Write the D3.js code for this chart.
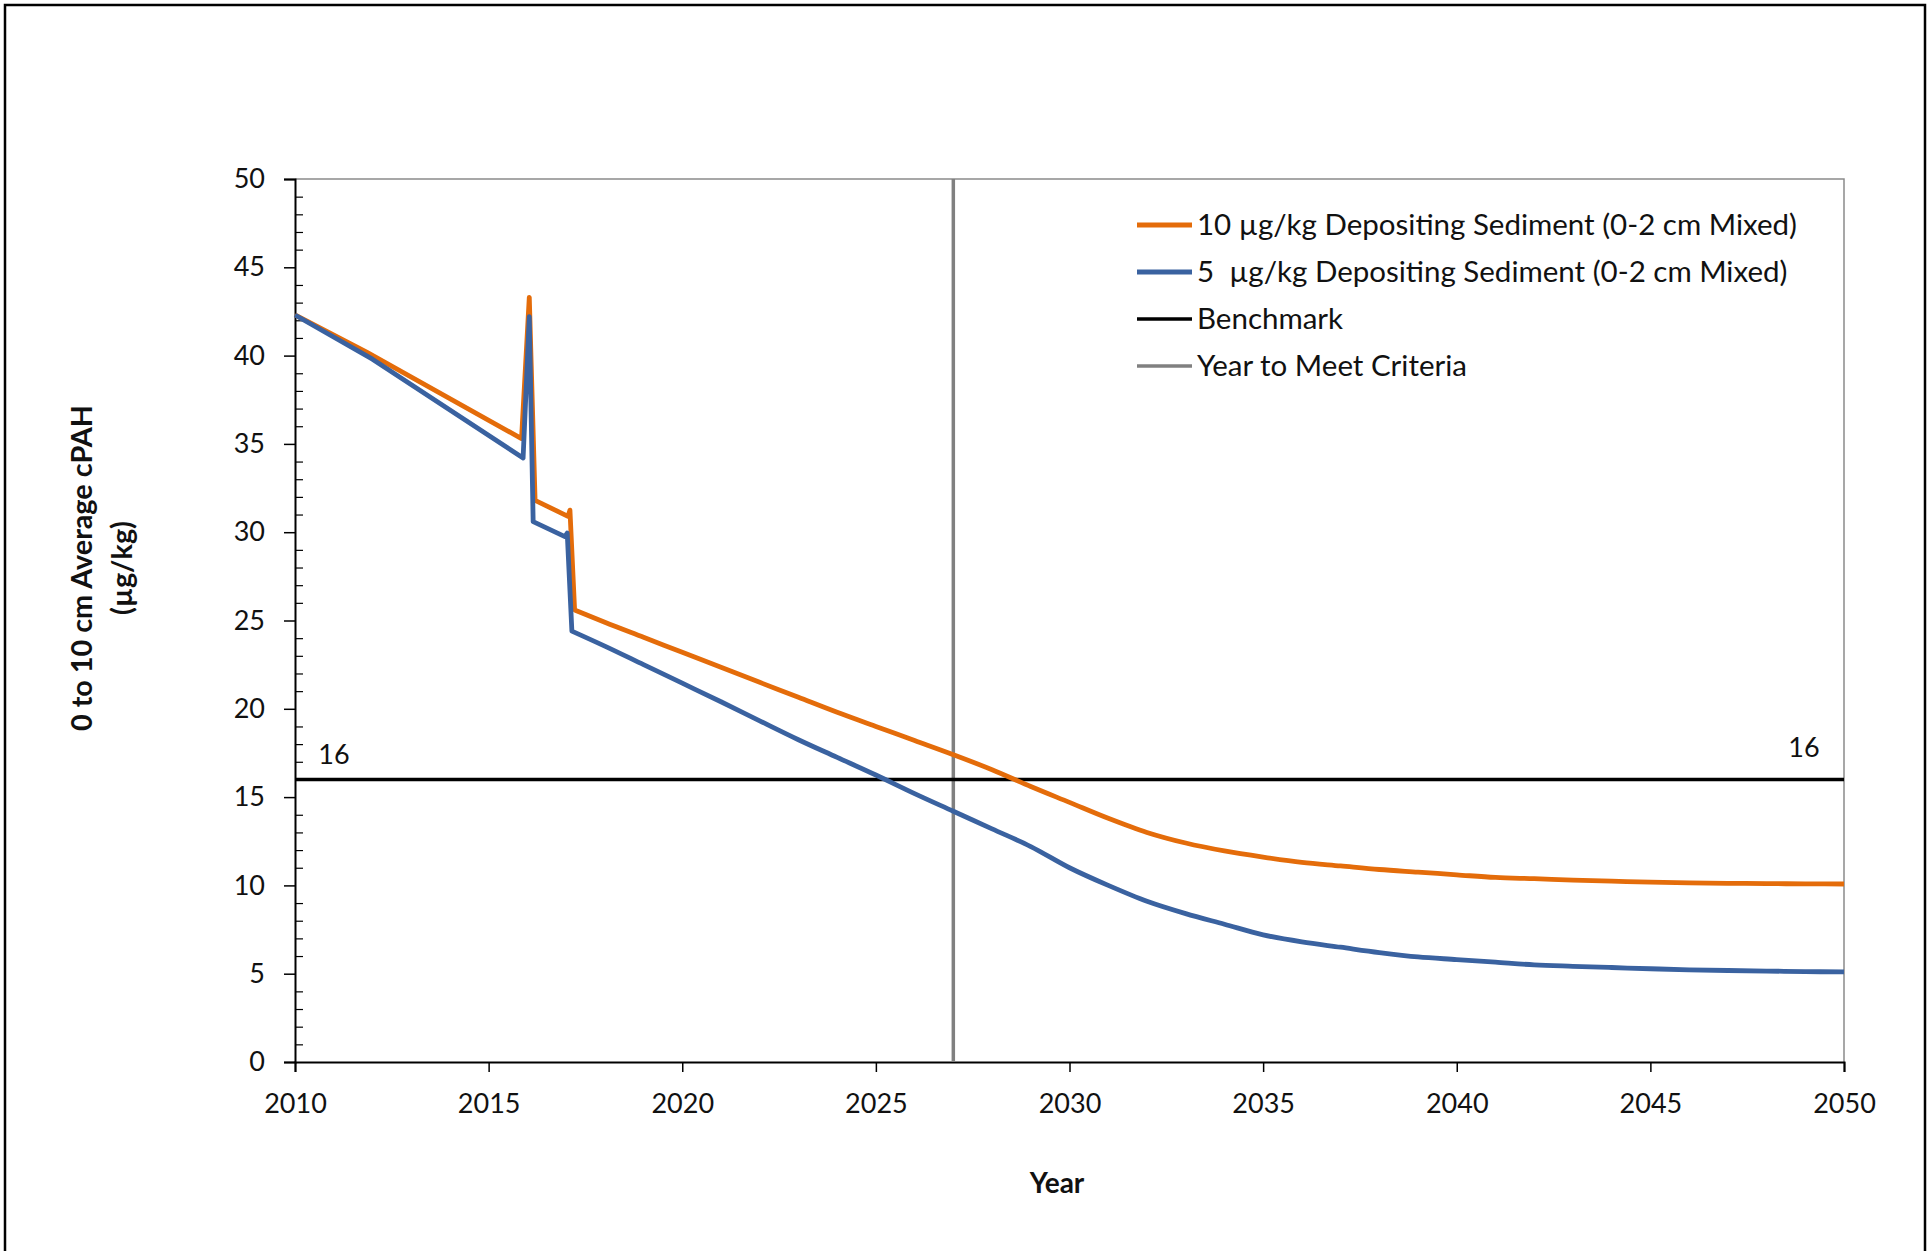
<!DOCTYPE html>
<html>
<head>
<meta charset="utf-8">
<script src="https://cdn.jsdelivr.net/npm/d3@7"></script>
<style>
  html, body { margin: 0; padding: 0; background: #fff; }
  svg { display: block; }
  text { font-family: Lato, "Open Sans", sans-serif; fill: #111; }
</style>
</head>
<body>
<svg id="chart" width="1927" height="1251"></svg>
<script>
// Average cPAH concentration in the 0-10 cm layer, by year
const seriesNames = [
  "10 \u00b5g/kg Depositing Sediment (0-2 cm Mixed)",
  "5  \u00b5g/kg Depositing Sediment (0-2 cm Mixed)"
];
const years10 = [2010, 2011.85, 2015.85, 2016.05, 2016.2, 2017.05, 2017.1, 2017.22,
  2018, 2019, 2020, 2021, 2022, 2023, 2024, 2025, 2026, 2027, 2028, 2029, 2030,
  2031, 2032, 2033, 2034, 2035, 2036, 2037, 2038, 2039, 2040, 2041, 2042, 2043,
  2044, 2045, 2046, 2047, 2048, 2049, 2050];
const values10 = [42.3, 40.2, 35.3, 43.3, 31.8, 30.9, 31.25, 25.6,
  24.9, 24.05, 23.2, 22.35, 21.5, 20.65, 19.8, 19.0, 18.2, 17.4, 16.55, 15.6, 14.7,
  13.8, 13.0, 12.4, 11.95, 11.6, 11.3, 11.1, 10.9, 10.75, 10.6, 10.45, 10.38, 10.3,
  10.24, 10.18, 10.14, 10.12, 10.1, 10.09, 10.08];
const years5 = [2010, 2012, 2015.89, 2016.05, 2016.15, 2016.97, 2017.03, 2017.15,
  2018, 2019, 2020, 2021, 2022, 2023, 2024, 2025, 2026, 2027, 2028, 2029, 2030,
  2031, 2032, 2033, 2034, 2035, 2036, 2037, 2038, 2039, 2040, 2041, 2042, 2043,
  2044, 2045, 2046, 2047, 2048, 2049, 2050];
const values5 = [42.3, 39.8, 34.2, 42.2, 30.6, 29.75, 29.95, 24.4,
  23.55, 22.5, 21.45, 20.4, 19.32, 18.25, 17.25, 16.25, 15.2, 14.2, 13.2, 12.2, 11.0,
  10.0, 9.1, 8.4, 7.8, 7.2, 6.8, 6.5, 6.2, 5.95, 5.8, 5.65, 5.5, 5.42,
  5.35, 5.28, 5.22, 5.18, 5.15, 5.12, 5.1];
// index of the last dredging-step point; straight segments up to here, smooth after
const stepEnd = 7;
const benchmark = 16;
const benchmarkYears = [2010, 2050];
const criteriaYear = 2027;
const criteriaRange = [0, 50];
const xTicks = [2010, 2015, 2020, 2025, 2030, 2035, 2040, 2045, 2050];
const yTicks = [0, 5, 10, 15, 20, 25, 30, 35, 40, 45, 50];
const yMinorTicks = d3.range(0, 51, 1);
const legendNames = [seriesNames[0], seriesNames[1], "Benchmark", "Year to Meet Criteria"];

const colors = { s10: "#E46C0A", s5: "#3A62A0", bench: "#000", crit: "#808080" };

const svg = d3.select("#chart");

// page frame
svg.append("rect")
  .attr("x", 5).attr("y", 5).attr("width", 1920).attr("height", 1262)
  .attr("fill", "none").attr("stroke", "#000").attr("stroke-width", 2.5);

const x = d3.scaleLinear().domain([2010, 2050]).range([295, 1844]);
const y = d3.scaleLinear().domain([0, 50]).range([1062, 179]);

// plot border (top/right)
svg.append("path")
  .attr("d", `M${x(2010)},${y(50)}H${x(2050)}V${y(0)}`)
  .attr("fill", "none").attr("stroke", "#8a8a8a").attr("stroke-width", 1.5);

// y axis: major ticks outside, minor ticks inside
const yAxis = d3.axisLeft(y).tickValues(yTicks).tickSize(11).tickPadding(19).tickFormat(d3.format("d"));
const gy = svg.append("g").attr("transform", `translate(${x(2010)},0)`).call(yAxis);
gy.select(".domain").attr("stroke", "#000").attr("stroke-width", 2);
gy.selectAll(".tick line").attr("stroke", "#000").attr("stroke-width", 1.5);
gy.selectAll(".tick text").attr("font-size", 27).attr("fill", "#111");
const yMinor = d3.axisRight(y).tickValues(yMinorTicks.filter(v => v % 5 !== 0)).tickSize(8).tickFormat("");
const gym = svg.append("g").attr("transform", `translate(${x(2010)},0)`).call(yMinor);
gym.select(".domain").remove();
gym.selectAll(".tick line").attr("stroke", "#000").attr("stroke-width", 1.2);

// x axis
const xAxis = d3.axisBottom(x).tickValues(xTicks).tickSize(10).tickPadding(22).tickFormat(d3.format("d"));
const gx = svg.append("g").attr("transform", `translate(0,${y(0)})`).call(xAxis);
gx.select(".domain").attr("stroke", "#000").attr("stroke-width", 2);
gx.selectAll(".tick line").attr("stroke", "#000").attr("stroke-width", 1.5);
gx.selectAll(".tick text").attr("font-size", 27).attr("fill", "#111");

const line = d3.line().x(d => x(d[0])).y(d => y(d[1]));
const smooth = d3.line().curve(d3.curveMonotoneX).x(d => x(d[0])).y(d => y(d[1]));

// straight through the step changes, smooth recovery afterwards
function seriesPath(years, values) {
  const pts = years.map((yr, i) => [yr, values[i]]);
  const head = line(pts.slice(0, stepEnd + 1));
  const tail = smooth(pts.slice(stepEnd)).replace(/^M/, "L");
  return head + tail;
}

// year to meet criteria
svg.append("path")
  .datum(criteriaRange.map(v => [criteriaYear, v]))
  .attr("d", line).attr("stroke", colors.crit).attr("stroke-width", 3.5).attr("fill", "none");

// benchmark
svg.append("path")
  .datum(benchmarkYears.map(yr => [yr, benchmark]))
  .attr("d", line).attr("stroke", colors.bench).attr("stroke-width", 3.5).attr("fill", "none");

// model series
svg.append("path")
  .attr("d", seriesPath(years10, values10)).attr("stroke", colors.s10).attr("stroke-width", 4.8)
  .attr("stroke-linejoin", "round").attr("fill", "none");
svg.append("path")
  .attr("d", seriesPath(years5, values5)).attr("stroke", colors.s5).attr("stroke-width", 4.8)
  .attr("stroke-linejoin", "round").attr("fill", "none");

// benchmark value labels
svg.append("text").attr("x", x(2010) + 39).attr("y", y(benchmark) - 15)
  .attr("text-anchor", "middle").attr("font-size", 27).text(benchmark);
svg.append("text").attr("x", x(2050) - 40).attr("y", y(benchmark) - 22)
  .attr("text-anchor", "middle").attr("font-size", 27).text(benchmark);

// axis titles
svg.append("text").attr("x", 1057).attr("y", 1193)
  .attr("text-anchor", "middle").attr("font-size", 28).attr("font-weight", "bold").text("Year");
const yt = svg.append("text").attr("transform", "translate(0,568) rotate(-90)")
  .attr("text-anchor", "middle").attr("font-size", 28.8).attr("font-weight", "bold");
yt.append("tspan").attr("x", 0).attr("y", 92).text("0 to 10 cm Average cPAH");
yt.append("tspan").attr("x", 0).attr("y", 132).text("(\u00b5g/kg)");

// legend
const legendColors = [colors.s10, colors.s5, colors.bench, colors.crit];
const lg = svg.append("g");
legendNames.forEach((name, i) => {
  const cy = 225 + i * 47;
  lg.append("line").attr("x1", 1137).attr("x2", 1192).attr("y1", cy).attr("y2", cy)
    .attr("stroke", legendColors[i]).attr("stroke-width", i < 2 ? 4.8 : 3.5);
  lg.append("text").attr("x", 1197).attr("y", cy).attr("dy", "0.35em")
    .attr("font-size", 29.5).style("white-space", "pre").text(name);
});
</script>
</body>
</html>
